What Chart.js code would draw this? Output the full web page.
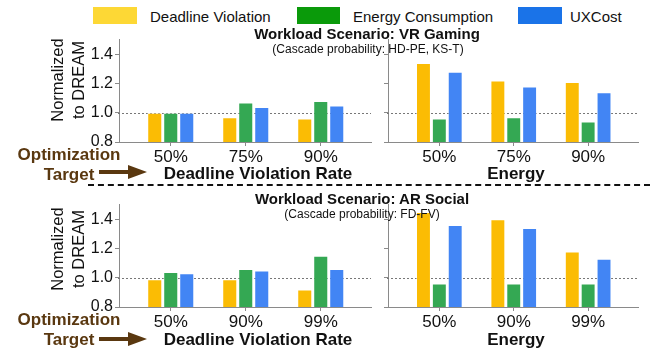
<!DOCTYPE html>
<html>
<head>
<meta charset="utf-8">
<script src="https://cdn.jsdelivr.net/npm/chart.js@4.4.1/dist/chart.umd.min.js"></script>
<style>
  body { margin: 0; background: #fff; }
  #wrap { position: relative; width: 650px; height: 352px; overflow: hidden; font-family: 'Liberation Sans', Arial, sans-serif; color: #111; }
  canvas { position: absolute; }
  .t { position: absolute; white-space: nowrap; line-height: 1; transform: translate(-50%, -50%); z-index: 2; }
  .l { position: absolute; white-space: nowrap; line-height: 1; transform: translateY(-50%); z-index: 2; font-size: 15px; }
  .sw { position: absolute; height: 17px; top: 7px; }
  .b { font-weight: bold; }
  .opt { color: #5a3810; font-weight: bold; font-size: 17px; }
  .ytitle { position: absolute; white-space: nowrap; text-align: center; font-size: 16.5px; line-height: 21px; transform: translate(-50%, -50%) rotate(-90deg); z-index: 2; }
  .arrow { position: absolute; z-index: 2; }
  .dash { position: absolute; left: 88px; width: 562px; top: 184px; border-top: 2px dashed #111; z-index: 2; }
</style>
</head>
<body>
<div id="wrap">
  <canvas id="vr_rate" width="335" height="140" style="left:40px;top:28px"></canvas>
  <canvas id="vr_energy" width="270" height="140" style="left:375px;top:28px"></canvas>
  <canvas id="ar_rate" width="335" height="140" style="left:40px;top:193px"></canvas>
  <canvas id="ar_energy" width="270" height="140" style="left:375px;top:193px"></canvas>

  <div class="sw" style="left:93px;width:44px;background:#FDD835"></div>
  <div class="l" style="left:150px;top:16px">Deadline Violation</div>
  <div class="sw" style="left:297px;width:43px;background:#0A9A0A"></div>
  <div class="l" style="left:353px;top:16px">Energy Consumption</div>
  <div class="sw" style="left:518px;width:44px;background:#1A73E8"></div>
  <div class="l" style="left:570px;top:16px">UXCost</div>

  <div class="t b" style="left:367px;top:33px;font-size:15px">Workload Scenario: VR Gaming</div>
  <div class="t" style="left:368px;top:49px;font-size:12px">(Cascade probability: HD-PE, KS-T)</div>
  <div class="t b" style="left:362px;top:198px;font-size:15px">Workload Scenario: AR Social</div>
  <div class="t" style="left:362px;top:214px;font-size:12px">(Cascade probability: FD-FV)</div>

  <div class="ytitle" style="left:67.5px;top:80px">Normalized<br>to DREAM</div>
  <div class="ytitle" style="left:67.5px;top:249px">Normalized<br>to DREAM</div>

  <div class="t opt" style="left:69px;top:154px">Optimization</div>
  <div class="t opt" style="left:69px;top:174px">Target</div>
  <div class="t opt" style="left:69px;top:319px">Optimization</div>
  <div class="t opt" style="left:69px;top:339px">Target</div>
  <svg class="arrow" style="left:98px;top:162px" width="52" height="20"><path d="M1 8 H30 V3 L49 10 L30 17 V12 H1 Z" fill="#5a3810"/></svg>
  <svg class="arrow" style="left:98px;top:329px" width="52" height="20"><path d="M1 8 H30 V3 L49 10 L30 17 V12 H1 Z" fill="#5a3810"/></svg>

  <div class="t b" style="left:258px;top:173px;font-size:17px">Deadline Violation Rate</div>
  <div class="t b" style="left:516px;top:173px;font-size:17px">Energy</div>
  <div class="t b" style="left:258px;top:339px;font-size:17px">Deadline Violation Rate</div>
  <div class="t b" style="left:516px;top:339px;font-size:17px">Energy</div>

  <div class="dash"></div>
</div>
<script>
const vrTargets = ['50%', '75%', '90%'];
const arTargets = ['50%', '90%', '99%'];
const yTicks = [0.8, 1.0, 1.2, 1.4];

// VR Gaming, optimization target = deadline violation rate
const vrRateDeadline = [1.00, 0.97, 0.96];
const vrRateEnergy = [1.00, 1.07, 1.08];
const vrRateUx = [1.00, 1.04, 1.05];
// VR Gaming, optimization target = energy
const vrEnergyDeadline = [1.34, 1.22, 1.21];
const vrEnergyEnergy = [0.96, 0.97, 0.94];
const vrEnergyUx = [1.28, 1.18, 1.14];
// AR Social, optimization target = deadline violation rate
const arRateDeadline = [0.99, 0.99, 0.92];
const arRateEnergy = [1.04, 1.06, 1.15];
const arRateUx = [1.03, 1.05, 1.06];
// AR Social, optimization target = energy
const arEnergyDeadline = [1.45, 1.40, 1.18];
const arEnergyEnergy = [0.96, 0.96, 0.96];
const arEnergyUx = [1.36, 1.34, 1.13];

const series_colors = ['#FBBC04', '#34A853', '#4285F4'];
const axis_color = '#8a8a8a';
const font_family = "'Liberation Sans', Arial, sans-serif";

// dotted reference line at 1.0, drawn under the bars
const ref_line = {
    id: 'ref_line',
    beforeDatasetsDraw(chart) {
        const { ctx, chartArea, scales } = chart;
        const y = Math.round(scales.y.getPixelForValue(1.0)) + 0.5;
        ctx.save();
        ctx.strokeStyle = '#777';
        ctx.lineWidth = 1;
        ctx.setLineDash([2, 2]);
        ctx.beginPath();
        ctx.moveTo(chartArea.left - 1, y);
        ctx.lineTo(chartArea.right, y);
        ctx.stroke();
        ctx.restore();
    }
};

function make_dataset(values, idx) {
    return {
        data: values.map((v, i) => ({ x: i, y: v })),
        backgroundColor: series_colors[idx],
        borderColor: 'rgba(255,255,255,0.45)',
        borderWidth: 1,
        categoryPercentage: 0.64,
        barPercentage: 0.94
    };
}

function create_panel(canvas_id, targets, series, show_y_labels, y_width, pad_right) {
    const canvas = document.getElementById(canvas_id);
    return new Chart(canvas, {
        type: 'bar',
        data: {
            datasets: series.map((s, i) => make_dataset(s, i))
        },
        options: {
            responsive: false,
            animation: false,
            devicePixelRatio: 1,
            layout: { padding: { top: 6, right: pad_right, left: 0, bottom: 0 } },
            scales: {
                x: {
                    type: 'linear',
                    min: -0.69,
                    max: 2.67,
                    offset: false,
                    afterBuildTicks: scale => { scale.ticks = targets.map((t, i) => ({ value: i })); },
                    afterFit: scale => { scale.height = 26; },
                    ticks: {
                        callback: v => targets[v],
                        font: { family: font_family, size: 17 },
                        color: '#111',
                        padding: 1,
                        maxRotation: 0
                    },
                    grid: { drawOnChartArea: false, offset: false, tickLength: 4, color: axis_color },
                    border: { color: axis_color, width: 1 }
                },
                y: {
                    min: 0.8,
                    max: 1.5,
                    afterBuildTicks: scale => { scale.ticks = yTicks.map(v => ({ value: v })); },
                    afterFit: scale => { scale.width = y_width; },
                    ticks: {
                        callback: v => show_y_labels ? v.toFixed(1) : '',
                        font: { family: font_family, size: 16 },
                        color: '#111',
                        padding: 2
                    },
                    grid: { drawOnChartArea: false, tickLength: 4, color: axis_color },
                    border: { color: axis_color, width: 1 }
                }
            },
            plugins: {
                legend: { display: false },
                tooltip: { enabled: false }
            }
        },
        plugins: [ref_line]
    });
}

create_panel('vr_rate', vrTargets, [vrRateDeadline, vrRateEnergy, vrRateUx], true, 79, 4);
create_panel('vr_energy', vrTargets, [vrEnergyDeadline, vrEnergyEnergy, vrEnergyUx], false, 13, 7);
create_panel('ar_rate', arTargets, [arRateDeadline, arRateEnergy, arRateUx], true, 79, 4);
create_panel('ar_energy', arTargets, [arEnergyDeadline, arEnergyEnergy, arEnergyUx], false, 13, 7);
</script>
</body>
</html>
